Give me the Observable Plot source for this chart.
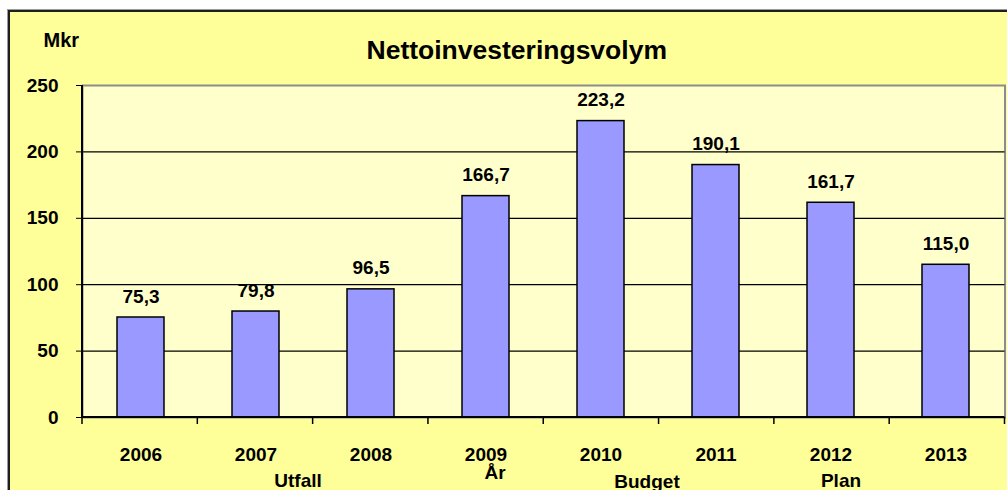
<!DOCTYPE html>
<html>
<head>
<meta charset="utf-8">
<script src="https://cdn.jsdelivr.net/npm/d3@7"></script>
<script src="https://cdn.jsdelivr.net/npm/@observablehq/plot@0.6"></script>
<style>
  html, body { margin: 0; padding: 0; background: #fff; }
  #wrap { position: relative; width: 1007px; height: 490px; overflow: hidden; font-family: "Liberation Sans", Arial, sans-serif; }
  #box { position: absolute; left: 8px; top: 10px; width: 1100px; height: 600px; border: 2px solid #1e1e1e; box-shadow: -1px -1px 0 #9a9a9a; background: #FFFF99; box-sizing: border-box; }
  #chart { position: absolute; left: 0; top: 0; }
</style>
</head>
<body>
<div id="wrap"><div id="box"></div><div id="chart"></div></div>
<script>
const years = ["2006", "2007", "2008", "2009", "2010", "2011", "2012", "2013"];
const values = [75.3, 79.8, 96.5, 166.7, 223.2, 190.1, 161.7, 115.0];
const yTicks = [0, 50, 100, 150, 200, 250];
const gridValues = [50, 100, 150, 200];
const subLabels = ["Utfall", "År", "Budget", "Plan"];
const subAnchors = ["2007", "2009", "2010", "2012"];
const subOffsets = [[42, 69], [9, 61], [46, 70], [10, 69]];
const title = "Nettoinvesteringsvolym";
const unit = "Mkr";

const data = years.map((y, i) => ({year: y, value: values[i]}));
const sv = d3.formatLocale({decimal: ",", thousands: " ", grouping: [3], currency: ["", " kr"]}).format(".1f");

const font = "Liberation Sans, Arial, sans-serif";

const boundaryMark = (index, scales, values, dims) => {
  const g = d3.create("svg:g");
  const x0 = dims.marginLeft, x1 = dims.width - dims.marginRight;
  const y0 = dims.height - dims.marginBottom;
  const n = years.length;
  const step = (x1 - x0) / n;
  for (let i = 0; i <= n; i++) {
    g.append("line").attr("x1", x0 + i * step).attr("x2", x0 + i * step)
      .attr("y1", y0).attr("y2", y0 + 7).attr("stroke", "#000").attr("stroke-width", 1.5);
  }
  g.append("line").attr("x1", x0).attr("x2", x0).attr("y1", dims.marginTop).attr("y2", y0 + 0.5)
    .attr("stroke", "#000").attr("stroke-width", 2);
  g.append("line").attr("x1", x0 - 1).attr("x2", x1).attr("y1", y0).attr("y2", y0)
    .attr("stroke", "#000").attr("stroke-width", 2);
  return g.node();
};

const chart = Plot.plot({
  width: 1007,
  height: 490,
  marginLeft: 82,
  marginRight: 2.5,
  marginTop: 85,
  marginBottom: 73,
  style: {background: "none", fontFamily: font, fontWeight: "bold", fontSize: "19px", color: "#000", overflow: "visible"},
  x: {domain: years, paddingInner: 0.595, paddingOuter: 0.2975, tickSize: 0, tickPadding: 30, label: null},
  y: {domain: [0, 250], ticks: yTicks, tickSize: 6, tickPadding: 18, label: null},
  marks: [
    Plot.frame({fill: "#FFFFCC", stroke: "#8c8c8c", strokeWidth: 2}),
    Plot.ruleY(gridValues, {stroke: "#000", strokeWidth: 1.2}),
    Plot.barY(data, {x: "year", y: "value", fill: "#9999FF", stroke: "#000", strokeWidth: 1.5}),
    boundaryMark,
    Plot.text(data, {x: "year", y: "value", text: d => sv(d.value), dy: -15, lineAnchor: "bottom", fontSize: 19, fontWeight: "bold", fill: "#000"}),
    ...subLabels.map((s, i) => Plot.text([s], {x: () => subAnchors[i], text: d => d, frameAnchor: "bottom", dx: subOffsets[i][0], dy: subOffsets[i][1], lineAnchor: "bottom", fontSize: 19, fontWeight: "bold", fill: "#000"})),
    Plot.text([title], {text: d => d, frameAnchor: "top", dx: -27, dy: -27, lineAnchor: "bottom", fontSize: 26.5, fontWeight: "bold", fill: "#000"}),
    Plot.text([unit], {text: d => d, frameAnchor: "top-left", textAnchor: "start", dx: -39, dy: -39, lineAnchor: "bottom", fontSize: 20, fontWeight: "bold", fill: "#000"})
  ]
});
document.getElementById("chart").appendChild(chart);
</script>
</body>
</html>
